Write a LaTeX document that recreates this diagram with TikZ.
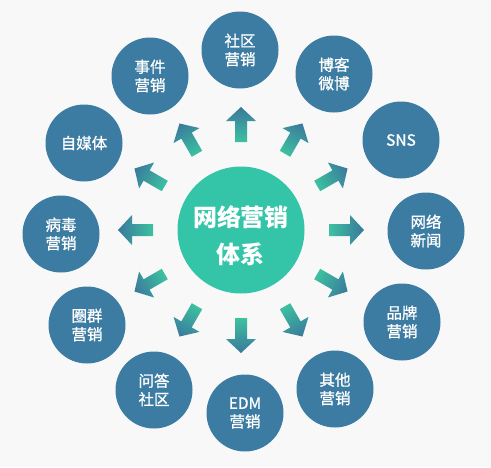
\documentclass[tikz,border=0pt]{standalone}
\usepackage{fontspec}
\setmainfont{Noto Sans CJK SC}
\newfontfamily\outerfont{Noto Sans CJK SC}[FakeBold=1]
\definecolor{bg}{HTML}{F8F8F8}
\definecolor{nodeblue}{HTML}{3C7CA2}
\definecolor{hubgreen}{HTML}{34C4A7}
\definecolor{arrgreen}{HTML}{3DC1A0}
\definecolor{arrblue}{HTML}{3A789C}
\begin{document}
\begin{tikzpicture}[x=1pt,y=-1pt,
  outer/.style={circle, fill=nodeblue, minimum size=77pt, inner sep=0pt, text=white,
    font=\outerfont\fontsize{15.5}{18.5}\selectfont, align=center},
  hub/.style={circle, fill=hubgreen, minimum size=127pt, inner sep=0pt},
  hubtext/.style={text=white, font=\fontsize{24}{37}\selectfont\bfseries, align=center},
  arrowshape/.style={left color=arrgreen, right color=arrblue}]
\fill[bg] (0,0) rectangle (491,467);
\useasboundingbox (0,0) rectangle (491,467);
\node[hub] (hub) at (241,230) {};
\node[hubtext] (hublabel) at (241,236) {网络营销\\体系};
\node[outer] (shequ)  at (240,50)  {社区\\营销};
\node[outer] (boke)   at (334,74)  {博客\\微博};
\node[outer] (sns)    at (401,140) {SNS};
\node[outer] (xinwen) at (426,231) {网络\\新闻};
\node[outer] (pinpai) at (402,322) {品牌\\营销};
\node[outer] (qita)   at (335,389) {其他\\营销};
\node[outer] (edm)    at (245,413) {EDM\\营销};
\node[outer] (wenda)  at (154,390) {问答\\社区};
\node[outer] (quanqun) at (87,325) {圈群\\营销};
\node[outer] (bingdu) at (61,234)  {病毒\\营销};
\node[outer] (zimeiti) at (84,143) {自媒体};
\node[outer] (shijian) at (150,76) {事件\\营销};
\foreach \a in {0,30,...,330} {
  \begin{scope}[transform canvas={shift={(241pt,-230pt)}, rotate=\a}]
    \shade[arrowshape] (88,-6) -- (109,-6) -- (109,-15) -- (123,0) -- (109,15) -- (109,6) -- (88,6) -- cycle;
  \end{scope}
}
\end{tikzpicture}
\end{document}
